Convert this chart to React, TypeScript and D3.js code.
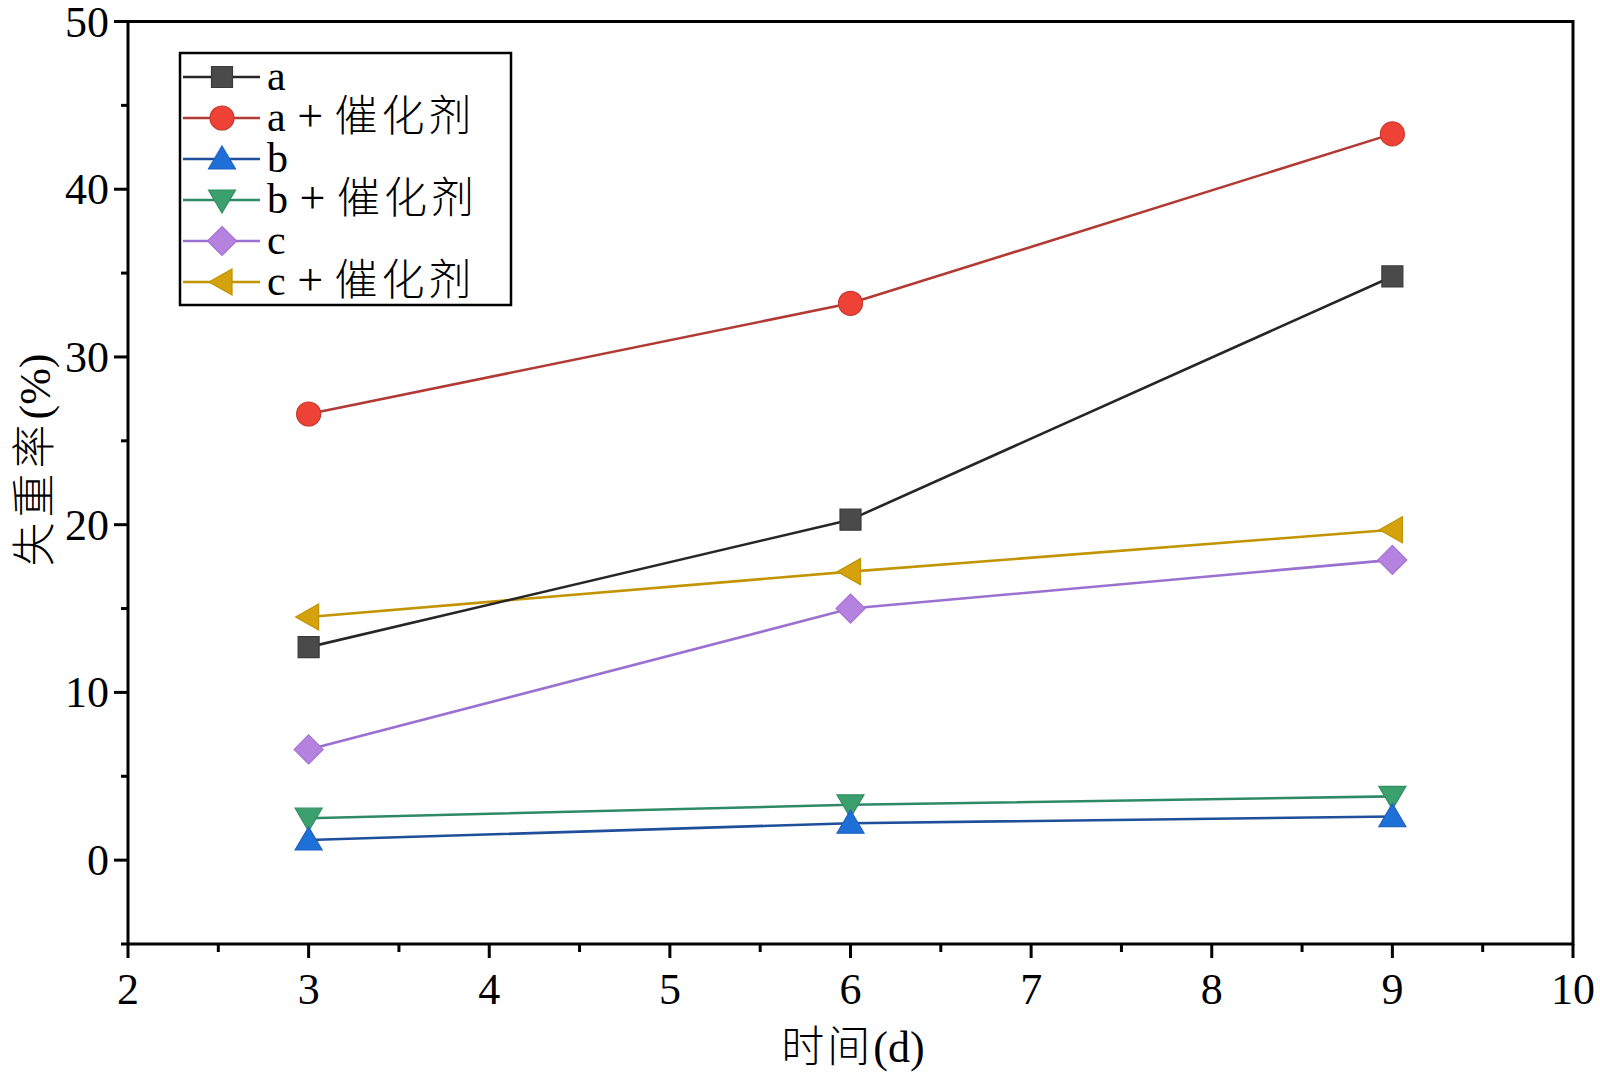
import * as d3 from 'd3';

const days = [3, 6, 9];
const seriesNames = ['a', 'a + 催化剂', 'b', 'b + 催化剂', 'c', 'c + 催化剂'];
const aValues = [12.7, 20.3, 34.8];
const aCatValues = [26.6, 33.2, 43.3];
const bValues = [1.2, 2.2, 2.6];
const bCatValues = [2.5, 3.3, 3.8];
const cValues = [6.6, 15.0, 17.9];
const cCatValues = [14.5, 17.2, 19.7];
const xTicks = [2, 3, 4, 5, 6, 7, 8, 9, 10];
const yTicks = [0, 10, 20, 30, 40, 50];

const lineColors = ['#262626', '#b23a35', '#1f4f9a', '#2e8a66', '#9a70d0', '#c29400'];
const markerColors = ['#4a4a4a', '#ee4236', '#1f6fd8', '#3ca06e', '#b682e0', '#d4a20c'];
const markerStrokes = ['#3a3a3a', '#c8382e', '#1f62c0', '#338f60', '#a474d4', '#c09200'];
const shapes = ['square', 'circle', 'triangleUp', 'triangleDown', 'diamond', 'triangleLeft'];

const W = 1600;
const H = 1080;
const margin = { top: 21.5, right: 27, bottom: 136, left: 128 };
const font = '"Liberation Serif", "Times New Roman", "Noto Sans CJK SC", serif';
const cjkFont = '"Noto Sans CJK SC", sans-serif';

const shapePath = (shape: string): string => {
  switch (shape) {
    case 'square':
      return 'M-10.5,-10.5H10.5V10.5H-10.5Z';
    case 'circle':
      return 'M12,0A12,12 0 1,1 -12,0A12,12 0 1,1 12,0Z';
    case 'triangleUp':
      return 'M0,-13L13.5,10L-13.5,10Z';
    case 'triangleDown':
      return 'M0,13L13.5,-10L-13.5,-10Z';
    case 'diamond':
      return 'M0,-14.5L14.5,0L0,14.5L-14.5,0Z';
    default:
      return 'M-13,0L10,-13V13Z';
  }
};

const App = () => {
  const data = [aValues, aCatValues, bValues, bCatValues, cValues, cCatValues];

  const x = d3
    .scaleLinear()
    .domain([2, 10])
    .range([margin.left, W - margin.right]);

  const y = d3
    .scaleLinear()
    .domain([-5, 50])
    .range([H - margin.bottom, margin.top]);

  const line = d3
    .line<number>()
    .x((_, i) => x(days[i]))
    .y((d) => y(d));

  const xMinor = d3.range(2.5, 10, 1);
  const yMinor = d3.range(-5, 50, 10);

  const legend = { x: 180, y: 53, w: 331, h: 252, rowStart: 77, rowStep: 41 };

  // draw order: later series on top, matching the reference
  const order = [4, 5, 0, 1, 3, 2];

  return (
    <svg
      width={W}
      height={H}
      style={{ position: 'absolute', left: 0, top: 0, background: '#fff' }}
      fontFamily={font}
    >
      {/* series */}
      {order.map((si) => (
        <g key={si}>
          <path
            d={line(data[si]) ?? ''}
            fill="none"
            stroke={lineColors[si]}
            strokeWidth={2.6}
            strokeLinejoin="round"
          />
          {data[si].map((v, i) => (
            <path
              key={i}
              d={shapePath(shapes[si])}
              transform={`translate(${x(days[i])},${y(v)})`}
              fill={markerColors[si]}
              stroke={markerStrokes[si]}
              strokeWidth={1.2}
            />
          ))}
        </g>
      ))}

      {/* frame */}
      <rect
        x={margin.left}
        y={margin.top}
        width={W - margin.right - margin.left}
        height={H - margin.bottom - margin.top}
        fill="none"
        stroke="#000"
        strokeWidth={3}
      />

      {/* x axis ticks */}
      {xTicks.map((t) => (
        <g key={`x${t}`}>
          <line x1={x(t)} x2={x(t)} y1={y(-5)} y2={y(-5) + 14} stroke="#000" strokeWidth={3} />
          <text x={x(t)} y={1004} textAnchor="middle" fontSize={44} fill="#000">
            {t}
          </text>
        </g>
      ))}
      {xMinor.map((t) => (
        <line key={`xm${t}`} x1={x(t)} x2={x(t)} y1={y(-5)} y2={y(-5) + 8} stroke="#000" strokeWidth={3} />
      ))}

      {/* y axis ticks */}
      {yTicks.map((t) => (
        <g key={`y${t}`}>
          <line x1={margin.left - 14} x2={margin.left} y1={y(t)} y2={y(t)} stroke="#000" strokeWidth={3} />
          <text x={109} y={y(t) + 15} textAnchor="end" fontSize={44} fill="#000">
            {t}
          </text>
        </g>
      ))}
      {yMinor.map((t) => (
        <line key={`ym${t}`} x1={margin.left - 7} x2={margin.left} y1={y(t)} y2={y(t)} stroke="#000" strokeWidth={3} />
      ))}

      {/* axis titles */}
      <text x={853} y={1062} textAnchor="middle" fontSize={44} fill="#000">
        <tspan fontFamily={cjkFont} fontWeight={300} fontSize={43} letterSpacing={3}>时间</tspan>
        <tspan>(d)</tspan>
      </text>
      <text
        transform={`translate(50,460) rotate(-90)`}
        textAnchor="middle"
        fontSize={44}
        fill="#000"
      >
        <tspan fontFamily={cjkFont} fontWeight={300} fontSize={44} letterSpacing={5}>失重率</tspan>
        <tspan>(%)</tspan>
      </text>

      {/* legend */}
      <rect
        x={legend.x}
        y={legend.y}
        width={legend.w}
        height={legend.h}
        fill="#fff"
        stroke="#000"
        strokeWidth={2.5}
      />
      {seriesNames.map((name, i) => {
        const cy = legend.rowStart + i * legend.rowStep;
        const [label, extra] = name.split(' + ');
        return (
          <g key={name}>
            <line x1={183} x2={260} y1={cy} y2={cy} stroke={lineColors[i]} strokeWidth={2.6} />
            <path
              d={shapePath(shapes[i])}
              transform={`translate(222,${cy})`}
              fill={markerColors[i]}
              stroke={markerStrokes[i]}
              strokeWidth={1.2}
            />
            <text x={267} y={cy + 13} fontSize={42} fill="#000">
              <tspan>{label}</tspan>
              {extra && (
                <>
                  <tspan fontSize={46}>{' + '}</tspan>
                  <tspan fontFamily={cjkFont} fontWeight={300} fontSize={43} letterSpacing={4}>
                    {extra}
                  </tspan>
                </>
              )}
            </text>
          </g>
        );
      })}
    </svg>
  );
};

export default App;
